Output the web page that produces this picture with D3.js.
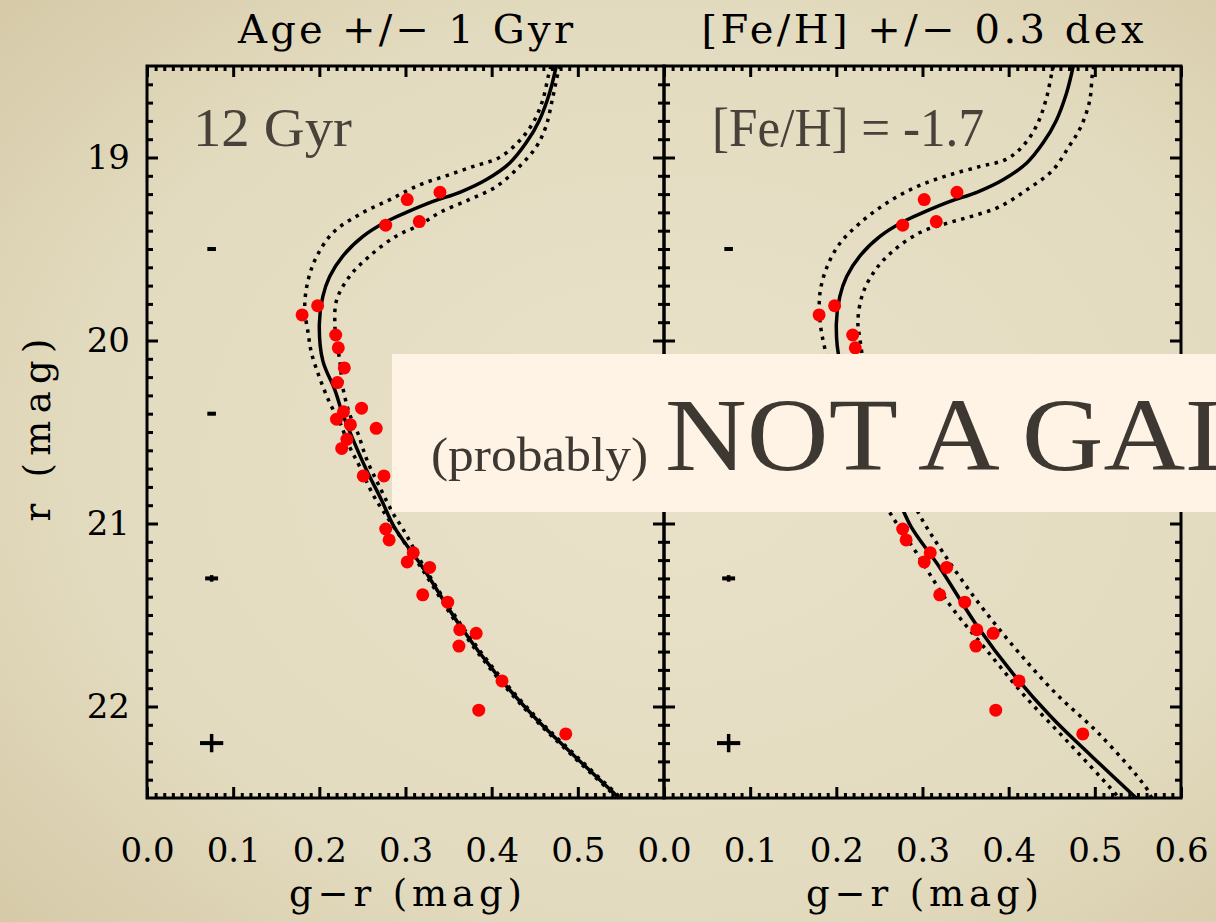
<!DOCTYPE html>
<html>
<head>
<meta charset="utf-8">
<script src="https://cdn.jsdelivr.net/npm/d3@7"></script>
<style>
  html, body { margin: 0; padding: 0; overflow: hidden; background: #e4dcc0; }
  .axisText { font-family: "DejaVu Serif", serif; fill: #000; }
</style>
</head>
<body>
<div id="chart"></div>
<script>
// stars seen in the field (g-r colour, r magnitude)
var starGR = [0.340, 0.302, 0.316, 0.277, 0.198, 0.180, 0.219, 0.222, 0.229, 0.221,
  0.249, 0.228, 0.220, 0.236, 0.266, 0.232, 0.226, 0.251, 0.275, 0.277,
  0.281, 0.309, 0.302, 0.328, 0.320, 0.349, 0.363, 0.382, 0.362, 0.412,
  0.385, 0.486];
var starR = [19.19, 19.23, 19.35, 19.37, 19.81, 19.86, 19.97, 20.04, 20.15, 20.23,
  20.37, 20.39, 20.43, 20.46, 20.48, 20.54, 20.59, 20.74, 20.74, 21.03,
  21.09, 21.16, 21.21, 21.24, 21.39, 21.43, 21.58, 21.60, 21.67, 21.86,
  22.02, 22.15];

// best isochrone: 12 Gyr, [Fe/H] = -1.7 (same in both panels)
var isoR = [18.50, 18.65, 18.80, 18.92, 19.03, 19.12, 19.19, 19.24, 19.30, 19.35,
  19.43, 19.54, 19.65, 19.76, 19.91, 20.11, 20.27, 20.40, 20.54, 20.71,
  20.87, 21.02, 21.24, 21.55, 21.82, 22.06, 22.27, 22.50];
var isoGR = [0.475, 0.467, 0.455, 0.440, 0.421, 0.394, 0.363, 0.332, 0.301, 0.278,
  0.251, 0.227, 0.212, 0.204, 0.200, 0.204, 0.218, 0.227, 0.239, 0.255,
  0.272, 0.287, 0.320, 0.362, 0.405, 0.450, 0.496, 0.548];

// age - 1 Gyr
var youngR = [18.50, 18.55, 18.69, 18.81, 18.91, 19.00, 19.05, 19.10, 19.15, 19.23,
  19.31, 19.41, 19.54, 19.67, 19.82, 19.96, 20.07, 20.20, 20.34, 20.45,
  20.58, 20.69, 20.84, 20.96, 21.24, 21.55, 21.82, 22.06, 22.27, 22.50];
var youngGR = [0.469, 0.466, 0.459, 0.448, 0.432, 0.409, 0.378, 0.347, 0.316, 0.282,
  0.247, 0.216, 0.197, 0.187, 0.183, 0.187, 0.191, 0.200, 0.212, 0.224,
  0.235, 0.247, 0.262, 0.278, 0.318, 0.360, 0.403, 0.448, 0.494, 0.546];

// age + 1 Gyr
var oldR = [18.50, 18.54, 18.67, 18.83, 18.94, 19.05, 19.16, 19.23, 19.30, 19.37,
  19.43, 19.54, 19.65, 19.78, 19.91, 20.00, 20.12, 20.25, 20.40, 20.51,
  20.65, 20.80, 20.94, 21.03, 21.24, 21.55, 21.82, 22.06, 22.27, 22.50];
var oldGR = [0.480, 0.477, 0.471, 0.463, 0.452, 0.432, 0.405, 0.374, 0.340, 0.316,
  0.289, 0.258, 0.235, 0.220, 0.218, 0.220, 0.224, 0.227, 0.235, 0.245,
  0.255, 0.270, 0.285, 0.297, 0.322, 0.364, 0.407, 0.452, 0.498, 0.550];

// [Fe/H] - 0.3
var poorR = [18.50, 18.54, 18.69, 18.83, 18.94, 19.01, 19.05, 19.10, 19.16, 19.25,
  19.36, 19.47, 19.60, 19.74, 19.89, 20.05, 20.30, 20.55, 20.75, 20.94,
  21.16, 21.44, 21.69, 21.95, 22.20, 22.44, 22.50];
var poorGR = [0.452, 0.450, 0.443, 0.432, 0.416, 0.397, 0.366, 0.328, 0.293, 0.258,
  0.227, 0.204, 0.189, 0.181, 0.181, 0.187, 0.203, 0.222, 0.240, 0.262,
  0.293, 0.331, 0.374, 0.420, 0.470, 0.517, 0.528];

// [Fe/H] + 0.3
var richR = [18.50, 18.55, 18.69, 18.83, 18.94, 19.07, 19.18, 19.27, 19.32, 19.36,
  19.41, 19.51, 19.61, 19.74, 19.89, 19.98, 20.20, 20.45, 20.70, 20.94,
  21.16, 21.44, 21.69, 21.93, 22.15, 22.44, 22.50];
var richGR = [0.499, 0.497, 0.494, 0.484, 0.470, 0.451, 0.420, 0.389, 0.358, 0.328,
  0.297, 0.266, 0.246, 0.231, 0.225, 0.227, 0.235, 0.252, 0.272, 0.295,
  0.324, 0.366, 0.409, 0.455, 0.505, 0.559, 0.566];

// typical photometric errors
var errGR0 = 0.075;
var errR = [19.5, 20.4, 21.3, 22.2];
var errGR = [0.005, 0.005, 0.0075, 0.0135];
var errMag = [0.008, 0.008, 0.018, 0.05];

// tick labels
var leftXTicks = [0.0, 0.1, 0.2, 0.3, 0.4, 0.5];
var rightXTicks = [0.0, 0.1, 0.2, 0.3, 0.4, 0.5, 0.6];
var yTicks = [19, 20, 21, 22];

var panelTitles = ["Age +/\u2212 1 Gyr", "[Fe/H] +/\u2212 0.3 dex"];
var panelNotes = ["12 Gyr", "[Fe/H] = -1.7"];

// SVG wrapper
var svgWidth = 1216;
var svgHeight = 922;
var plotTop = 66, plotBottom = 798;

var svg = d3.select("#chart")
  .append("svg")
  .attr("width", svgWidth)
  .attr("height", svgHeight);

// parchment background
var defs = svg.append("defs");
var grad = defs.append("radialGradient")
  .attr("id", "paper")
  .attr("cx", "55%").attr("cy", "50%").attr("r", "75%");
grad.append("stop").attr("offset", "0%").attr("stop-color", "#e9e2ca");
grad.append("stop").attr("offset", "65%").attr("stop-color", "#e3dbbf");
grad.append("stop").attr("offset", "100%").attr("stop-color", "#d5c9a7");

svg.append("rect")
  .attr("width", svgWidth)
  .attr("height", svgHeight)
  .attr("fill", "url(#paper)");

var yScale = d3.scaleLinear().domain([18.5, 22.5]).range([plotTop, plotBottom]);

var panels = [
  { x0: 147, x1: 664, ticks: leftXTicks, dotted: [[youngGR, youngR], [oldGR, oldR]] },
  { x0: 664, x1: 1181, ticks: rightXTicks, dotted: [[poorGR, poorR], [richGR, richR]] }
];

function pairs(grs, rs) {
  return grs.map((g, i) => [g, rs[i]]);
}

var minorX = d3.range(1, 60).filter(i => i % 10 != 0).map(i => i / 100);
var minorY = d3.range(186, 225).filter(i => i % 10 != 0).map(i => i / 10);

function styleAxis(sel) {
  sel.select(".domain").remove();
  sel.selectAll(".tick line").attr("stroke", "#000").attr("stroke-width", 3);
  sel.selectAll(".tick text")
    .attr("class", "axisText")
    .attr("fill", "#000")
    .style("font-size", "34px");
}

panels.forEach(function(p, i) {
  var xScale = d3.scaleLinear().domain([0, 0.6]).range([p.x0, p.x1]);
  var g = svg.append("g");

  var clipId = "clip" + i;
  defs.append("clipPath").attr("id", clipId)
    .append("rect")
    .attr("x", p.x0).attr("y", plotTop)
    .attr("width", p.x1 - p.x0).attr("height", plotBottom - plotTop);

  var plot = g.append("g").attr("clip-path", `url(#${clipId})`);

  var line = d3.line()
    .x(d => xScale(d[0]))
    .y(d => yScale(d[1]))
    .curve(d3.curveCatmullRom);

  // dotted isochrones
  p.dotted.forEach(function(c) {
    plot.append("path")
      .attr("d", line(pairs(c[0], c[1])))
      .attr("fill", "none")
      .attr("stroke", "#000")
      .attr("stroke-width", 3.5)
      .attr("stroke-dasharray", "3.5,5.5");
  });

  // best isochrone
  plot.append("path")
    .attr("d", line(pairs(isoGR, isoR)))
    .attr("fill", "none")
    .attr("stroke", "#000")
    .attr("stroke-width", 3.5);

  // stars
  plot.selectAll("circle")
    .data(pairs(starGR, starR))
    .enter()
    .append("circle")
    .attr("cx", d => xScale(d[0]))
    .attr("cy", d => yScale(d[1]))
    .attr("r", 6.5)
    .attr("fill", "#ff0000");

  // error bars
  errR.forEach(function(r, k) {
    plot.append("line")
      .attr("x1", xScale(errGR0 - errGR[k])).attr("x2", xScale(errGR0 + errGR[k]))
      .attr("y1", yScale(r)).attr("y2", yScale(r))
      .attr("stroke", "#000").attr("stroke-width", 4);
    plot.append("line")
      .attr("x1", xScale(errGR0)).attr("x2", xScale(errGR0))
      .attr("y1", yScale(r - errMag[k])).attr("y2", yScale(r + errMag[k]))
      .attr("stroke", "#000").attr("stroke-width", 3.5);
  });

  // axes, ticks pointing inward
  g.append("g")
    .attr("transform", `translate(0, ${plotBottom})`)
    .call(d3.axisBottom(xScale).tickValues(p.ticks).tickSize(-11).tickPadding(40)
      .tickFormat(d3.format(".1f")))
    .call(styleAxis);
  g.append("g")
    .attr("transform", `translate(0, ${plotBottom})`)
    .call(d3.axisBottom(xScale).tickValues(minorX).tickSize(-5).tickFormat(""))
    .call(styleAxis);
  g.append("g")
    .attr("transform", `translate(0, ${plotTop})`)
    .call(d3.axisTop(xScale).tickValues(p.ticks).tickSize(-11).tickFormat(""))
    .call(styleAxis);
  g.append("g")
    .attr("transform", `translate(0, ${plotTop})`)
    .call(d3.axisTop(xScale).tickValues(minorX).tickSize(-5).tickFormat(""))
    .call(styleAxis);

  g.append("g")
    .attr("transform", `translate(${p.x0}, 0)`)
    .call(d3.axisLeft(yScale).tickValues(yTicks).tickSize(-11).tickPadding(17)
      .tickFormat(i == 0 ? d3.format("d") : ""))
    .call(styleAxis);
  g.append("g")
    .attr("transform", `translate(${p.x0}, 0)`)
    .call(d3.axisLeft(yScale).tickValues(minorY).tickSize(-6).tickFormat(""))
    .call(styleAxis);
  g.append("g")
    .attr("transform", `translate(${p.x1}, 0)`)
    .call(d3.axisRight(yScale).tickValues(yTicks).tickSize(-11).tickFormat(""))
    .call(styleAxis);
  g.append("g")
    .attr("transform", `translate(${p.x1}, 0)`)
    .call(d3.axisRight(yScale).tickValues(minorY).tickSize(-6).tickFormat(""))
    .call(styleAxis);

  // frame
  g.append("rect")
    .attr("x", p.x0).attr("y", plotTop)
    .attr("width", p.x1 - p.x0).attr("height", plotBottom - plotTop)
    .attr("fill", "none")
    .attr("stroke", "#000")
    .attr("stroke-width", 3);

  var cx = (p.x0 + p.x1) / 2;

  // panel title
  g.append("text")
    .attr("class", "axisText")
    .attr("x", cx)
    .attr("y", 43)
    .attr("text-anchor", "middle")
    .attr("textLength", i == 0 ? 335 : 442)
    .attr("lengthAdjust", "spacing")
    .style("font-size", "40px")
    .text(panelTitles[i]);

  // x axis label
  g.append("text")
    .attr("class", "axisText")
    .attr("x", cx)
    .attr("y", 906)
    .attr("text-anchor", "middle")
    .attr("textLength", 233)
    .attr("lengthAdjust", "spacing")
    .style("font-size", "37px")
    .text("g\u2212r (mag)");

  // note in panel
  g.append("text")
    .attr("x", p.x0 + (i == 0 ? 46 : 48))
    .attr("y", 146)
    .attr("textLength", i == 0 ? 159 : 272)
    .attr("lengthAdjust", "spacingAndGlyphs")
    .style("font-family", "'Liberation Serif', serif")
    .style("font-size", "55px")
    .attr("fill", "#48423a")
    .text(panelNotes[i]);
});

// y axis label
svg.append("text")
  .attr("class", "axisText")
  .attr("transform", "translate(50, 430) rotate(-90)")
  .attr("text-anchor", "middle")
  .attr("textLength", 183)
  .attr("lengthAdjust", "spacing")
  .style("font-size", "37px")
  .text("r (mag)");

// overlay banner
svg.append("rect")
  .attr("x", 392).attr("y", 354)
  .attr("width", svgWidth - 392).attr("height", 158)
  .attr("fill", "#fef3e4");

svg.append("text")
  .attr("x", 431)
  .attr("y", 471)
  .attr("textLength", 217)
  .attr("lengthAdjust", "spacingAndGlyphs")
  .style("font-family", "'Liberation Serif', serif")
  .style("font-size", "48px")
  .attr("fill", "#3d3831")
  .text("(probably)");

// the big words run off the right edge, as in the slide
var big = svg.append("text")
  .attr("x", 665)
  .attr("y", 470)
  .style("font-family", "'Liberation Serif', serif")
  .style("font-size", "103px")
  .attr("fill", "#3d3831")
  .text("NOT A GALAXY");
var bigLen = big.node().getComputedTextLength();
big.attr("textLength", bigLen * 1.1)
  .attr("lengthAdjust", "spacingAndGlyphs");
</script>
</body>
</html>
